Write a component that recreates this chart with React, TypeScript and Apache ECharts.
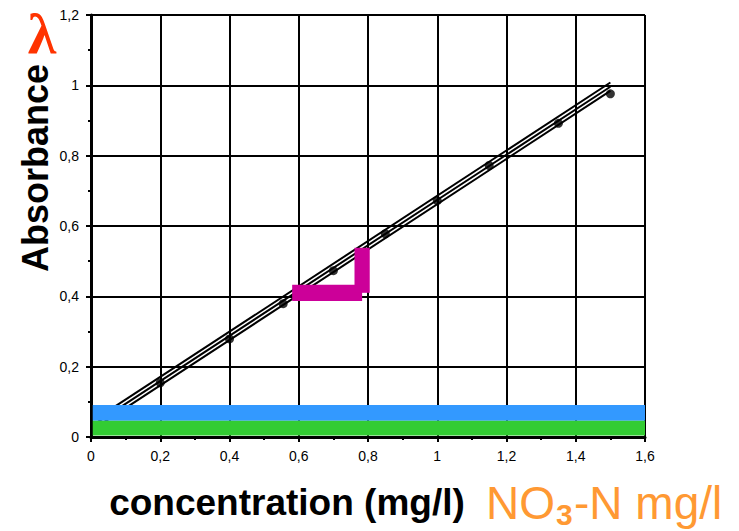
import React, { useEffect, useRef } from "react";
import * as echarts from "echarts";

// Measured calibration points (concentration mg/l, absorbance)
const pointsX = [0.2, 0.4, 0.555, 0.7, 0.85, 1.0, 1.15, 1.35, 1.5];
const pointsY = [0.154, 0.279, 0.379, 0.473, 0.578, 0.672, 0.772, 0.892, 0.976];

// Regression line and its two parallel bands (x ends, y ends)
const fitX = [0.02, 1.5];
const fitUpper = [0.055, 1.008];
const fitCenter = [0.043, 0.996];
const fitLower = [0.031, 0.984];

// Coloured bands: [x0, x1, y0, y1]
const blueBand = [[0.005, 1.6, 0.046, 0.091]];
const greenBand = [[0.005, 1.6, 0.004, 0.046]];
// Magenta L marker: [x0, x1, y0, y1]
const magentaL = [
  [0.581, 0.783, 0.387, 0.433],
  [0.761, 0.805, 0.41, 0.538],
];

const FONT = "'Liberation Sans', Arial, sans-serif";

const fmt = (v: number) => String(+v.toFixed(1)).replace(".", ",");

function rectSeries(data: number[][], color: string, z: number) {
  return {
    type: "custom",
    z,
    data,
    encode: { x: [0, 1], y: [2, 3] },
    renderItem: (params: any, api: any) => {
      const p0 = api.coord([api.value(0), api.value(3)]);
      const p1 = api.coord([api.value(1), api.value(2)]);
      return {
        type: "rect",
        shape: { x: p0[0], y: p0[1], width: p1[0] - p0[0], height: p1[1] - p0[1] },
        style: { fill: color },
      };
    },
  };
}

export default function App() {
  const ref = useRef<HTMLDivElement>(null);
  useEffect(() => {
    if (!ref.current) return;
    const chart = echarts.init(ref.current, undefined, { renderer: "svg" });
    const axisCommon = {
      type: "value",
      interval: 0.2,
      axisLine: { show: true, lineStyle: { color: "#000", width: 3 } },
      axisTick: { show: true, inside: false, length: 5, lineStyle: { color: "#000", width: 2 } },
      minorTick: { show: true, splitNumber: 2, length: 3, lineStyle: { color: "#000", width: 2 } },
      splitLine: { show: true, lineStyle: { color: "#000", width: 2 } },
      axisLabel: { color: "#000", fontSize: 14, fontFamily: FONT, margin: 12, formatter: fmt },
    };
    const lineSeries = (ys: number[]) => ({
      type: "line",
      z: 3,
      data: fitX.map((x, i) => [x, ys[i]]),
      symbol: "none",
      lineStyle: { color: "#000", width: 2 },
    });
    chart.setOption({
      animation: false,
      backgroundColor: "#fff",
      grid: { left: 91, right: 94, top: 15, bottom: 94, containLabel: false },
      xAxis: { ...axisCommon, min: 0, max: 1.6 },
      yAxis: { ...axisCommon, min: 0, max: 1.2 },
      series: [
        lineSeries(fitUpper),
        lineSeries(fitCenter),
        lineSeries(fitLower),
        {
          type: "scatter",
          z: 4,
          data: pointsX.map((x, i) => [x, pointsY[i]]),
          symbolSize: 9,
          itemStyle: { color: "#000" },
        },
        rectSeries(blueBand, "#3399FF", 6),
        rectSeries(greenBand, "#33CC33", 6),
        rectSeries(magentaL, "#CC0099", 6),
      ],
      graphic: [
        {
          type: "text",
          x: 35,
          y: 168,
          rotation: Math.PI / 2,
          style: {
            text: "Absorbance",
            fontFamily: FONT,
            fontWeight: "bold",
            fontSize: 36,
            fill: "#000",
            align: "center",
            verticalAlign: "middle",
          },
        },
        {
          type: "text",
          x: 42,
          y: 33,
          style: {
            text: "λ",
            fontFamily: "'Liberation Serif', 'DejaVu Serif', serif",
            fontWeight: "bold",
            fontSize: 58,
            fill: "#FF3300",
            align: "center",
            verticalAlign: "middle",
          },
        },
        {
          type: "text",
          x: 287,
          y: 502,
          style: {
            text: "concentration (mg/l)",
            fontFamily: FONT,
            fontWeight: "bold",
            fontSize: 37,
            fill: "#000",
            align: "center",
            verticalAlign: "middle",
          },
        },
        {
          type: "text",
          x: 486,
          y: 503,
          style: {
            text: "NO",
            fontFamily: FONT,
            fontSize: 46,
            fill: "#FF9933",
            align: "left",
            verticalAlign: "middle",
          },
        },
        {
          type: "text",
          x: 556,
          y: 514,
          style: {
            text: "3",
            fontFamily: FONT,
            fontWeight: "bold",
            fontSize: 30,
            fill: "#FF9933",
            align: "left",
            verticalAlign: "middle",
          },
        },
        {
          type: "text",
          x: 574,
          y: 503,
          style: {
            text: "-N mg/l",
            fontFamily: FONT,
            fontSize: 46,
            fill: "#FF9933",
            align: "left",
            verticalAlign: "middle",
          },
        },
      ],
    });
    return () => chart.dispose();
  }, []);
  return (
    <div
      ref={ref}
      style={{ position: "fixed", left: 0, top: 0, width: 739, height: 531, background: "#fff" }}
    />
  );
}
